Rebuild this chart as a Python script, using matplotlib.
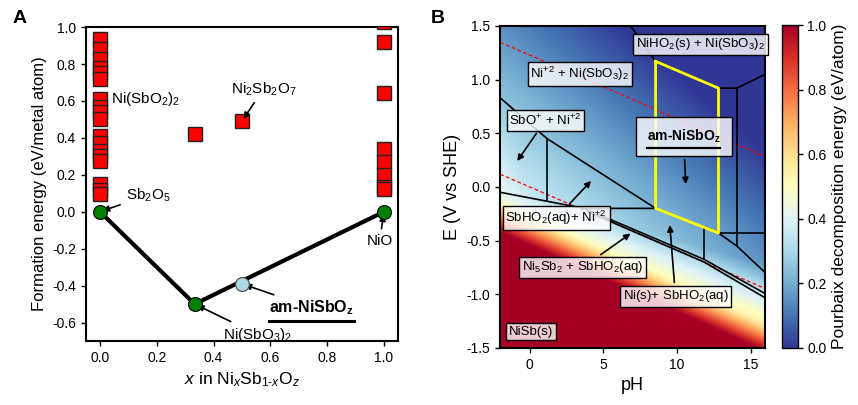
import numpy as np
import matplotlib
matplotlib.use('Agg')
import matplotlib.pyplot as plt
from matplotlib.lines import Line2D
from matplotlib.text import Text

plt.rcParams['font.family'] = ['Liberation Sans', 'DejaVu Sans']
plt.rcParams['mathtext.fontset'] = 'custom'
plt.rcParams['mathtext.rm'] = 'Liberation Sans'
plt.rcParams['mathtext.it'] = 'Liberation Sans:italic'
plt.rcParams['mathtext.bf'] = 'Liberation Sans:bold'
plt.rcParams['font.size'] = 10
plt.rcParams['axes.linewidth'] = 1.5

# ---------------- Panel A data ----------------
unstable_x0 = [0.935, 0.88, 0.83, 0.78, 0.75, 0.72, 0.61, 0.565, 0.54, 0.50,
               0.41, 0.37, 0.33, 0.30, 0.275, 0.15, 0.12, 0.095]
unstable_mid_x = [1/3, 0.5]
unstable_mid_y = [0.42, 0.49]
unstable_x1 = [1.03, 0.92, 0.645, 0.34, 0.27, 0.20, 0.135, 0.125]

hull_x = [0.0, 1/3, 1.0]
hull_y = [0.0, -0.50, 0.0]
am_x = [0.5]
am_y = [-0.39]

# ---------------- Panel B data ----------------
ph_range = [-2, 16]
e_range = [-1.5, 1.5]
# decomposition-energy planes: dG = off + a*pH + b*E ; field = max of planes
plane_off = [0.0, 0.34, 0.34, 0.29, 0.021]
plane_ph = [0.0, -0.018, -0.04, -0.04, -0.1116]
plane_e = [0.0, -0.15, -0.20, -0.70, -1.80]

boundaries = [
    [(-2, 0.83), (1.18, 0.45), (8.55, -0.20)],
    [(1.18, 0.45), (1.18, -0.125)],
    [(-2, -0.05), (3.7, -0.20), (8.55, -0.20)],
    [(3.7, -0.20), (11.84, -0.675), (16, -0.995)],
    [(3.9, -0.228), (11.84, -0.700), (16, -1.035)],
    [(6.85, 1.5), (8.55, 1.17)],
    [(12.82, 0.92), (14.06, 0.92), (16, 1.05)],
    [(14.06, 0.92), (14.06, -0.55)],
    [(12.82, -0.43), (16, -0.43)],
    [(12.82, -0.43), (14.06, -0.55), (16, -0.80)],
    [(11.84, -0.377), (11.84, -0.675)],
]
am_polygon = [(8.55, 1.17), (12.82, 0.92), (12.82, -0.43), (8.55, -0.20), (8.55, 1.17)]

water_ph = [-2, 16]
water_upper = [1.229 + 0.0592 * 2, 1.229 - 0.0592 * 16]
water_lower = [0.0592 * 2, -0.0592 * 16]

fig = plt.figure(figsize=(8.58, 4.05), dpi=100)
axA = fig.add_axes([0.100, 0.158, 0.364, 0.775])
axB = fig.add_axes([0.583, 0.141, 0.309, 0.795])
cax = fig.add_axes([0.911, 0.141, 0.0186, 0.797])

# ---------------- Panel A ----------------
sq = dict(marker='s', ms=10, mfc='red', mec='#222222', mew=1.0, ls='none', zorder=3)
axA.plot([0.0] * len(unstable_x0), unstable_x0, **sq)
axA.plot(unstable_mid_x, unstable_mid_y, **sq)
axA.plot([1.0] * len(unstable_x1), unstable_x1, **sq)
axA.plot(hull_x, hull_y, color='black', lw=3.0, zorder=4)
axA.plot(hull_x, hull_y, marker='o', ms=10, mfc='green', mec='black', mew=0.8,
         ls='none', zorder=5)
axA.plot(am_x, am_y, marker='o', ms=10, mfc='lightblue', mec='#444444', mew=0.8,
         ls='none', zorder=5)

axA.set_xlim(-0.05, 1.05)
axA.set_ylim(-0.7, 1.0)
axA.set_xticks([0.0, 0.2, 0.4, 0.6, 0.8, 1.0])
axA.set_yticks([-0.6, -0.4, -0.2, 0.0, 0.2, 0.4, 0.6, 0.8, 1.0])
axA.set_xticklabels(['0.0', '0.2', '0.4', '0.6', '0.8', '1.0'])
axA.set_yticklabels(['-0.6', '-0.4', '-0.2', '0.0', '0.2', '0.4', '0.6', '0.8', '1.0'])
axA.set_xlabel(r'$x$ in Ni$_x$Sb$_{1\text{-}x}$O$_z$', fontsize=12.5)
axA.set_ylabel('Formation energy (eV/metal atom)', fontsize=12)

arr = dict(arrowstyle='-|>', color='black', lw=1.2, mutation_scale=9)
fsA = 11
axA.annotate(r'Sb$_2$O$_5$', xy=(0.0, 0.0), xytext=(0.09, 0.09), ha='left', va='center',
             arrowprops=arr, fontsize=fsA)
axA.text(0.04, 0.61, r'Ni(SbO$_2$)$_2$', ha='left', va='center', fontsize=fsA)
axA.annotate(r'Ni$_2$Sb$_2$O$_7$', xy=(0.5, 0.49), xytext=(0.575, 0.665), ha='center',
             va='center', arrowprops=arr, fontsize=fsA)
axA.annotate('NiO', xy=(1.0, 0.0), xytext=(0.985, -0.16), ha='center', va='center',
             arrowprops=arr, fontsize=fsA)
axA.annotate(r'Ni(SbO$_3$)$_2$', xy=(1/3, -0.50), xytext=(0.555, -0.665), ha='center',
             va='center', arrowprops=arr, fontsize=fsA)
tA = axA.annotate(r'am-NiSbO$_{\mathbf{z}}$', xy=(0.5, -0.39), xytext=(0.745, -0.52),
                  ha='center', va='center', arrowprops=arr, fontsize=11.5,
                  fontweight='bold')

# ---------------- Panel B ----------------
ph = np.linspace(ph_range[0], ph_range[1], 361)
ee = np.linspace(e_range[0], e_range[1], 301)
PH, EE = np.meshgrid(ph, ee)
field = np.max([o + a * PH + b * EE for o, a, b in zip(plane_off, plane_ph, plane_e)], axis=0)
im = axB.imshow(field, origin='lower', extent=[*ph_range, *e_range], aspect='auto',
                cmap='RdYlBu_r', vmin=0, vmax=1, interpolation='bilinear', zorder=0)

axB.plot(water_ph, water_upper, color='red', lw=0.9, ls=(0, (3, 2)), zorder=2)
axB.plot(water_ph, water_lower, color='red', lw=0.9, ls=(0, (3, 2)), zorder=2)
for seg in boundaries:
    xs, ys = zip(*seg)
    axB.plot(xs, ys, color='black', lw=1.2, zorder=3)
px, py = zip(*am_polygon)
axB.plot(px, py, color='yellow', lw=2.0, zorder=4)

axB.set_xlim(*ph_range)
axB.set_ylim(*e_range)
axB.set_xticks([0, 5, 10, 15])
axB.set_yticks([-1.5, -1.0, -0.5, 0.0, 0.5, 1.0, 1.5])
axB.set_yticklabels(['-1.5', '-1.0', '-0.5', '0.0', '0.5', '1.0', '1.5'])
axB.set_xlabel('pH', fontsize=13)
axB.set_ylabel('E (V vs SHE)', fontsize=13)

box = dict(boxstyle='square,pad=0.2', fc=(1, 1, 1, 0.8), ec='black', lw=1.0)
fs = 9.5
axB.text(11.6, 1.33, r'NiHO$_2$(s) + Ni(SbO$_3$)$_2$', ha='center', va='center',
         fontsize=fs, bbox=box, zorder=6)
axB.text(3.4, 1.05, r'Ni$^{+2}$ + Ni(SbO$_3$)$_2$', ha='center', va='center',
         fontsize=fs, bbox=box, zorder=6)
axB.annotate(r'SbO$^{+}$ + Ni$^{+2}$', xy=(-0.95, 0.22), xytext=(1.07, 0.62),
             ha='center', va='center', fontsize=fs, bbox=box, arrowprops=arr, zorder=6)
axB.annotate(r'SbHO$_2$(aq)+ Ni$^{+2}$', xy=(4.3, 0.075), xytext=(1.8, -0.29),
             ha='center', va='center', fontsize=fs, bbox=box, arrowprops=arr, zorder=6)
axB.annotate(r'Ni$_5$Sb$_2$ + SbHO$_2$(aq)', xy=(7.0, -0.42), xytext=(3.6, -0.75),
             ha='center', va='center', fontsize=fs, bbox=box, arrowprops=arr, zorder=6)
axB.annotate(r'Ni(s)+ SbHO$_2$(aq)', xy=(9.5, -0.33), xytext=(9.9, -1.02),
             ha='center', va='center', fontsize=fs, bbox=box, arrowprops=arr, zorder=6)
axB.text(0.1, -1.35, 'NiSb(s)', ha='center', va='center', fontsize=fs, bbox=box, zorder=6)
box2 = dict(boxstyle='square,pad=0.8', fc=(1, 1, 1, 0.8), ec='black', lw=1.0)
tB = axB.annotate(r'am-NiSbO$_{\mathbf{z}}$', xy=(10.6, 0.0), xytext=(10.45, 0.47),
                  ha='center', va='center', fontsize=10, fontweight='bold', bbox=box2,
                  arrowprops=arr, zorder=6)

cb = fig.colorbar(im, cax=cax)
cb.set_ticks([0.0, 0.2, 0.4, 0.6, 0.8, 1.0])
cb.set_label('Pourbaix decomposition energy (eV/atom)', fontsize=12.5)
cb.outline.set_linewidth(1.0)

for ax in (axA, axB):
    ax.tick_params(direction='out', length=3.5, width=1.0, labelsize=10)
cax.tick_params(direction='out', length=3.5, width=1.0, labelsize=10)

fig.text(0.023, 0.955, 'A', fontsize=14, fontweight='bold', ha='center', va='center')
fig.text(0.510, 0.955, 'B', fontsize=14, fontweight='bold', ha='center', va='center')

# underlines beneath the bold am-NiSbOz labels
fig.canvas.draw()
r = fig.canvas.get_renderer()
inv = fig.transFigure.inverted()
for t, gap, lw in ((tA, 4, 2.2), (tB, 3, 1.6)):
    bb = Text.get_window_extent(t, r)
    (x0, y0), (x1, _) = inv.transform([(bb.x0, bb.y0 - gap), (bb.x1, bb.y0 - gap)])
    fig.add_artist(Line2D([x0, x1], [y0, y0], transform=fig.transFigure,
                          color='black', lw=lw, zorder=7))

fig.savefig('out.png', dpi=100)
